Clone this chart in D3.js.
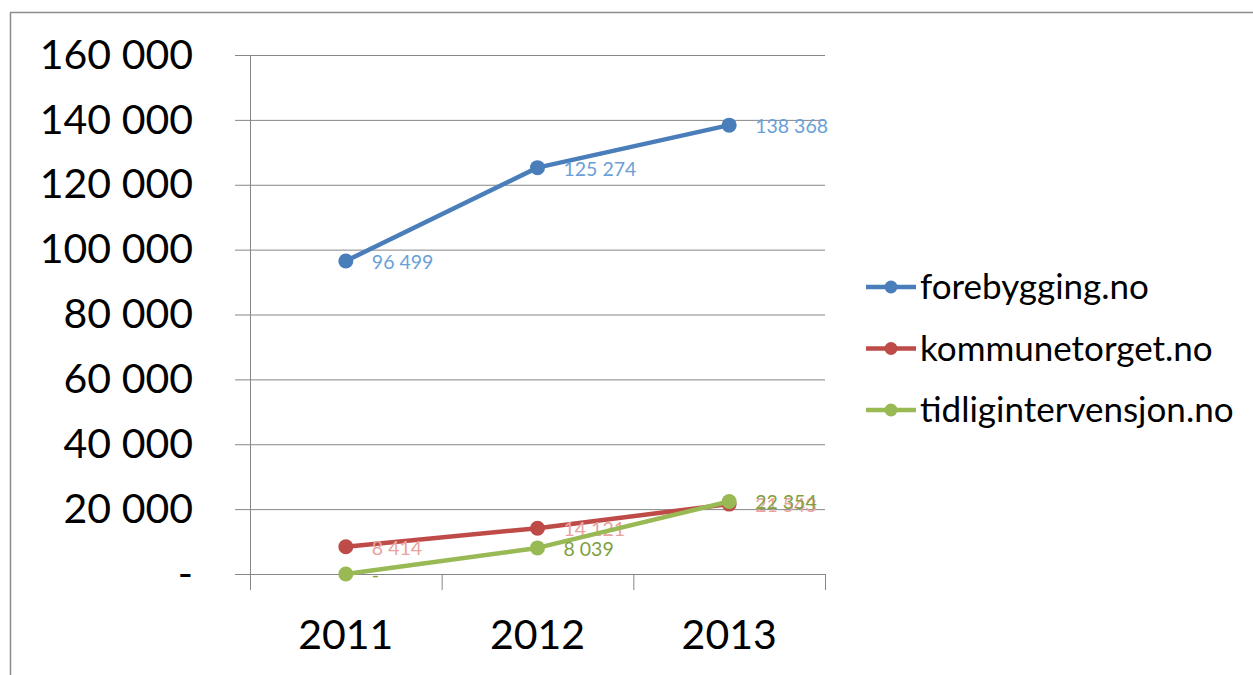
<!DOCTYPE html>
<html>
<head>
<meta charset="utf-8">
<script src="https://cdn.jsdelivr.net/npm/d3@7"></script>
<style>
  body { margin: 0; background: #fff; }
  svg text { font-family: Lato, "Open Sans", sans-serif; }
</style>
</head>
<body>
<div id="chart"></div>
<script>
// values
const years = ["2011", "2012", "2013"];
const seriesNames = ["forebygging.no", "kommunetorget.no", "tidligintervensjon.no"];
const forebygging = [96499, 125274, 138368];
const kommunetorget = [8414, 14121, 21543];
const tidlig = [0, 8039, 22354];
const yTicks = [0, 20000, 40000, 60000, 80000, 100000, 120000, 140000, 160000];

const lineColors = ["#4a7ebb", "#be4b48", "#98b954"];
const labelColors = ["#6a9fd8", "#e8a3a1", "#7f9f3f"];

const W = 1253, H = 675;
const plot = { left: 250, right: 825, top: 55, bottom: 574 };

const svg = d3.select("#chart").append("svg")
    .attr("width", W).attr("height", H);

// outer frame
svg.append("rect")
    .attr("x", 10.5).attr("y", 12.5)
    .attr("width", W + 20).attr("height", H + 20)
    .attr("fill", "none").attr("stroke", "#8c8c8c").attr("stroke-width", 1.5);

const x = d3.scaleBand().domain(years).range([plot.left, plot.right]);
const y = d3.scaleLinear().domain([0, 160000]).range([plot.bottom, plot.top]);

function fmt(v) {
    if (v === 0) return "-";
    return d3.format(",")(v).replace(/,/g, " ");
}

// horizontal grid lines
svg.append("g")
    .attr("transform", "translate(" + plot.left + ",0)")
    .call(d3.axisLeft(y).tickValues(yTicks).tickSize(-(plot.right - plot.left)).tickFormat(""))
    .call(g => g.select(".domain").remove())
    .call(g => g.selectAll("line").attr("stroke", "#868686"));

// y axis with tick stubs
const yAxis = svg.append("g")
    .attr("transform", "translate(" + plot.left + ",0)")
    .call(d3.axisLeft(y).tickValues(yTicks).tickSize(15).tickPadding(42).tickFormat(fmt));
yAxis.select(".domain").attr("stroke", "#868686");
yAxis.selectAll("line").attr("stroke", "#868686");
yAxis.selectAll("text").attr("fill", "#000").style("font-size", "41px")
    .style("font-family", "Lato, sans-serif");

// x axis
const xAxis = svg.append("g")
    .attr("transform", "translate(0," + plot.bottom + ")")
    .call(d3.axisBottom(x).tickSize(0).tickPadding(46));
xAxis.select(".domain").attr("stroke", "#868686");
xAxis.selectAll("text").attr("fill", "#000").style("font-size", "41px")
    .style("font-family", "Lato, sans-serif");
// category boundary ticks
const bounds = years.map(d => x(d)).concat([plot.right]);
svg.append("g").selectAll("line").data(bounds).join("line")
    .attr("x1", d => d + 0.5).attr("x2", d => d + 0.5)
    .attr("y1", plot.bottom).attr("y2", plot.bottom + 16)
    .attr("stroke", "#868686");

const series = [forebygging, kommunetorget, tidlig];
const cx = d => x(d) + x.bandwidth() / 2;
const line = d3.line().x((d, i) => cx(years[i])).y(d => y(d));

series.forEach((vals, s) => {
    const g = svg.append("g");
    g.append("path").datum(vals)
        .attr("d", line)
        .attr("fill", "none")
        .attr("stroke", lineColors[s])
        .attr("stroke-width", 4.5)
        .attr("stroke-linejoin", "round");
    g.selectAll("circle").data(vals).join("circle")
        .attr("cx", (d, i) => cx(years[i]))
        .attr("cy", d => y(d))
        .attr("r", 7.5)
        .attr("fill", lineColors[s]);
    g.selectAll("text").data(vals).join("text")
        .attr("x", (d, i) => cx(years[i]) + 26)
        .attr("y", d => y(d) + 8)
        .attr("fill", labelColors[s])
        .style("font-size", "19.5px")
        .text(fmt);
});

// legend
const legend = svg.append("g");
seriesNames.forEach((name, i) => {
    const ly = 287 + i * 61.5;
    legend.append("line")
        .attr("x1", 866).attr("x2", 916).attr("y1", ly).attr("y2", ly)
        .attr("stroke", lineColors[i]).attr("stroke-width", 4.5);
    legend.append("circle")
        .attr("cx", 891).attr("cy", ly).attr("r", 6.5).attr("fill", lineColors[i]);
    legend.append("text")
        .attr("x", 920).attr("y", ly + 12)
        .attr("fill", "#000")
        .style("font-size", "35px")
        .text(name);
});
</script>
</body>
</html>
